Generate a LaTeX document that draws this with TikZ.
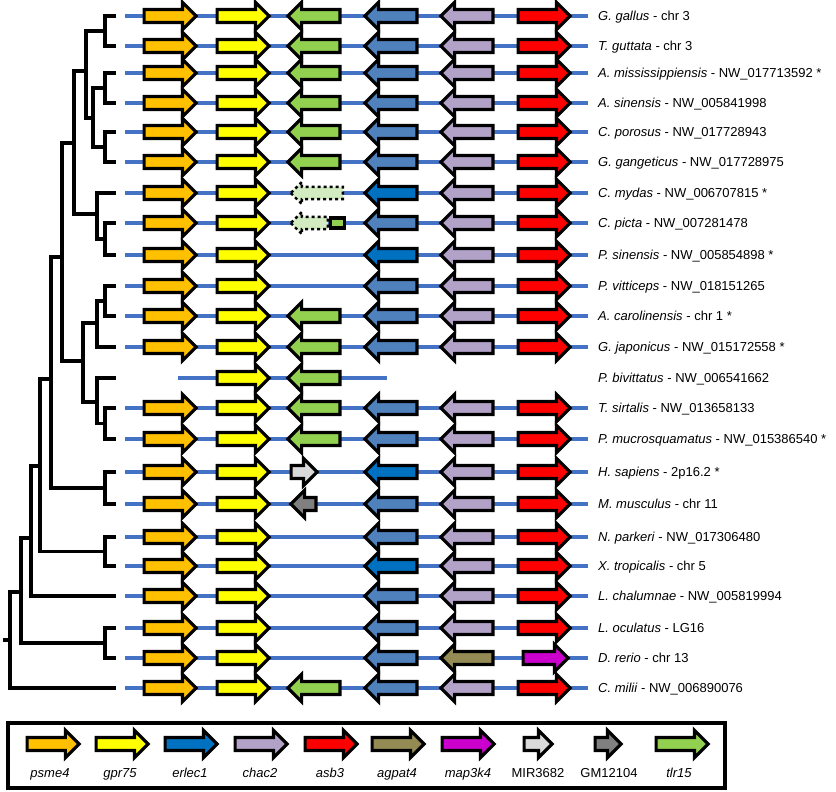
\documentclass[tikz,border=0pt]{standalone}
\usepackage{fontspec}
\setmainfont{Liberation Sans}
\usetikzlibrary{shapes,arrows,positioning}
\definecolor{cpsme}{HTML}{FFC000}
\definecolor{cgpr}{HTML}{FFFF00}
\definecolor{ctlr}{HTML}{92D050}
\definecolor{ctlrpale}{HTML}{D3EBC0}
\definecolor{cerl}{HTML}{4F81BD}
\definecolor{cerld}{HTML}{0070C0}
\definecolor{cchac}{HTML}{B3A2C7}
\definecolor{casb}{HTML}{FF0000}
\definecolor{cagpat}{HTML}{948A54}
\definecolor{cmap}{HTML}{CC00CC}
\definecolor{cmir}{HTML}{D9D9D9}
\definecolor{cgm}{HTML}{808080}
\definecolor{cchrom}{HTML}{4472C4}

\begin{document}
\begin{tikzpicture}[x=1pt, y=-1pt,
    every node/.style={font=\fontsize{13}{15}\selectfont},
    gene/.style={single arrow, draw=black, line width=3.2pt, inner sep=4.9pt,
        single arrow head extend=7.2pt, minimum height=52pt, anchor=tail},
    fwd/.style={gene},
    rev/.style={gene, rotate=180},
    psme4/.style={fwd, fill=cpsme},
    gpr75/.style={fwd, fill=cgpr},
    tlr15/.style={rev, fill=ctlr},
    erlec1/.style={rev, fill=cerl},
    erlec1d/.style={rev, fill=cerld},
    chac2/.style={rev, fill=cchac},
    asb3/.style={fwd, fill=casb},
    agpat4/.style={rev, fill=cagpat},
    map3k4/.style={fwd, fill=cmap, minimum height=45pt},
    mir3682/.style={fwd, fill=cmir, minimum height=26pt},
    gm12104/.style={rev, fill=cgm, minimum height=25pt},
    pseudo/.style={rev, fill=ctlrpale, line width=2.4pt, dash pattern=on 3pt off 3pt,
        single arrow head extend=5pt},
    branch/.style={line width=3.4pt},
    chrom/.style={draw=cchrom, line width=3.2pt},
    sp/.style={anchor=west, inner sep=0pt, text height=9.3pt, text depth=0pt},
    leglab/.style={anchor=base}]
    \useasboundingbox (0,0) rectangle (836,792);

    % Tree leaves
    \coordinate (leaf0) at (116,16);
    \coordinate (leaf1) at (116,46);
    \coordinate (leaf2) at (116,73);
    \coordinate (leaf3) at (116,103);
    \coordinate (leaf4) at (116,132);
    \coordinate (leaf5) at (116,162);
    \coordinate (leaf6) at (116,193);
    \coordinate (leaf7) at (116,223);
    \coordinate (leaf8) at (116,255);
    \coordinate (leaf9) at (116,286);
    \coordinate (leaf10) at (116,316);
    \coordinate (leaf11) at (116,347);
    \coordinate (leaf12) at (116,378);
    \coordinate (leaf13) at (116,408);
    \coordinate (leaf14) at (116,439);
    \coordinate (leaf15) at (116,472);
    \coordinate (leaf16) at (116,504);
    \coordinate (leaf17) at (116,537);
    \coordinate (leaf18) at (116,566);
    \coordinate (leaf19) at (116,596);
    \coordinate (leaf20) at (116,628);
    \coordinate (leaf21) at (116,658);
    \coordinate (leaf22) at (116,688);

    % Tree nodes
    \coordinate (birds) at (105,31);
    \coordinate (allig) at (105,88);
    \coordinate (crocs) at (105,147);
    \coordinate (croco) at (93,118);
    \coordinate (archo) at (86,71);
    \coordinate (emyd) at (105,239);
    \coordinate (turtles) at (97,214);
    \coordinate (archel) at (74,143);
    \coordinate (iguan) at (105,301);
    \coordinate (toxi) at (97,323);
    \coordinate (colub) at (105,423.5);
    \coordinate (snakes) at (97,402);
    \coordinate (squam) at (83,361);
    \coordinate (sauria) at (62,257);
    \coordinate (mammals) at (105,488);
    \coordinate (amniota) at (51,379);
    \coordinate (anura) at (105,551.5);
    \coordinate (tetra) at (40,466);
    \coordinate (sarco) at (31,538);
    \coordinate (actino) at (105,643);
    \coordinate (osteich) at (21,592);
    \coordinate (gnath) at (10,640);
    \coordinate (root) at (3,640);

    % Branches
    \draw[branch] (leaf0) -| (birds) |- (leaf1);
    \draw[branch] (leaf2) -| (allig) |- (leaf3);
    \draw[branch] (leaf4) -| (crocs) |- (leaf5);
    \draw[branch] (allig) -| (croco) |- (crocs);
    \draw[branch] (birds) -| (archo) |- (croco);
    \draw[branch] (leaf7) -| (emyd) |- (leaf8);
    \draw[branch] (leaf6) -| (turtles) |- (emyd);
    \draw[branch] (archo) -| (archel) |- (turtles);
    \draw[branch] (leaf9) -| (iguan) |- (leaf10);
    \draw[branch] (iguan) -| (toxi) |- (leaf11);
    \draw[branch] (leaf13) -| (colub) |- (leaf14);
    \draw[branch] (leaf12) -| (snakes) |- (colub);
    \draw[branch] (toxi) -| (squam) |- (snakes);
    \draw[branch] (archel) -| (sauria) |- (squam);
    \draw[branch] (leaf15) -| (mammals) |- (leaf16);
    \draw[branch] (sauria) -| (amniota) |- (mammals);
    \draw[branch] (leaf17) -| (anura) |- (leaf18);
    \draw[branch] (amniota) -| (tetra) |- (anura);
    \draw[branch] (tetra) -| (sarco) |- (leaf19);
    \draw[branch] (leaf20) -| (actino) |- (leaf21);
    \draw[branch] (sarco) -| (osteich) |- (actino);
    \draw[branch] (osteich) -| (gnath) |- (leaf22);
    \draw[branch] (root) -- (gnath);

    % Species
    \node[sp] (sp0) at (598,16) {\textit{G. gallus} - chr 3};
    \node[sp] (sp1) at (598,46) {\textit{T. guttata} - chr 3};
    \node[sp] (sp2) at (598,73) {\textit{A. mississippiensis} - NW\_017713592 *};
    \node[sp] (sp3) at (598,103) {\textit{A. sinensis} - NW\_005841998};
    \node[sp] (sp4) at (598,132) {\textit{C. porosus} - NW\_017728943};
    \node[sp] (sp5) at (598,162) {\textit{G. gangeticus} - NW\_017728975};
    \node[sp] (sp6) at (598,193) {\textit{C. mydas} - NW\_006707815 *};
    \node[sp] (sp7) at (598,223) {\textit{C. picta} - NW\_007281478};
    \node[sp] (sp8) at (598,255) {\textit{P. sinensis} - NW\_005854898 *};
    \node[sp] (sp9) at (598,286) {\textit{P. vitticeps} - NW\_018151265};
    \node[sp] (sp10) at (598,316) {\textit{A. carolinensis} - chr 1 *};
    \node[sp] (sp11) at (598,347) {\textit{G. japonicus} - NW\_015172558 *};
    \node[sp] (sp12) at (598,378) {\textit{P. bivittatus} - NW\_006541662};
    \node[sp] (sp13) at (598,408) {\textit{T. sirtalis} - NW\_013658133};
    \node[sp] (sp14) at (598,439) {\textit{P. mucrosquamatus} - NW\_015386540 *};
    \node[sp] (sp15) at (598,472) {\textit{H. sapiens} - 2p16.2 *};
    \node[sp] (sp16) at (598,504) {\textit{M. musculus} - chr 11};
    \node[sp] (sp17) at (598,537) {\textit{N. parkeri} - NW\_017306480};
    \node[sp] (sp18) at (598,566) {\textit{X. tropicalis} - chr 5};
    \node[sp] (sp19) at (598,596) {\textit{L. chalumnae} - NW\_005819994};
    \node[sp] (sp20) at (598,628) {\textit{L. oculatus} - LG16};
    \node[sp] (sp21) at (598,658) {\textit{D. rerio} - chr 13};
    \node[sp] (sp22) at (598,688) {\textit{C. milii} - NW\_006890076};

    % Chromosome lines
    \draw[chrom] ([xshift=9pt]leaf0) -- ([xshift=-10pt]sp0.west);
    \draw[chrom] ([xshift=9pt]leaf1) -- ([xshift=-10pt]sp1.west);
    \draw[chrom] ([xshift=9pt]leaf2) -- ([xshift=-10pt]sp2.west);
    \draw[chrom] ([xshift=9pt]leaf3) -- ([xshift=-10pt]sp3.west);
    \draw[chrom] ([xshift=9pt]leaf4) -- ([xshift=-10pt]sp4.west);
    \draw[chrom] ([xshift=9pt]leaf5) -- ([xshift=-10pt]sp5.west);
    \draw[chrom] ([xshift=9pt]leaf6) -- ([xshift=-10pt]sp6.west);
    \draw[chrom] ([xshift=9pt]leaf7) -- ([xshift=-10pt]sp7.west);
    \draw[chrom] ([xshift=9pt]leaf8) -- ([xshift=-10pt]sp8.west);
    \draw[chrom] ([xshift=9pt]leaf9) -- ([xshift=-10pt]sp9.west);
    \draw[chrom] ([xshift=9pt]leaf10) -- ([xshift=-10pt]sp10.west);
    \draw[chrom] ([xshift=9pt]leaf11) -- ([xshift=-10pt]sp11.west);
    \draw[chrom] ([xshift=62pt]leaf12) -- ([xshift=271pt]leaf12);
    \draw[chrom] ([xshift=9pt]leaf13) -- ([xshift=-10pt]sp13.west);
    \draw[chrom] ([xshift=9pt]leaf14) -- ([xshift=-10pt]sp14.west);
    \draw[chrom] ([xshift=9pt]leaf15) -- ([xshift=-10pt]sp15.west);
    \draw[chrom] ([xshift=9pt]leaf16) -- ([xshift=-10pt]sp16.west);
    \draw[chrom] ([xshift=9pt]leaf17) -- ([xshift=-10pt]sp17.west);
    \draw[chrom] ([xshift=9pt]leaf18) -- ([xshift=-10pt]sp18.west);
    \draw[chrom] ([xshift=9pt]leaf19) -- ([xshift=-10pt]sp19.west);
    \draw[chrom] ([xshift=9pt]leaf20) -- ([xshift=-10pt]sp20.west);
    \draw[chrom] ([xshift=9pt]leaf21) -- ([xshift=-10pt]sp21.west);
    \draw[chrom] ([xshift=9pt]leaf22) -- ([xshift=-10pt]sp22.west);

    % G. gallus
    \node[psme4] (psme0) at (142.5,16) {};
    \node[gpr75] (gpr0) at (215.5,16) {};
    \node[tlr15] (tlr0) at (341.5,16) {};
    \node[erlec1] (erl0) at (418.5,16) {};
    \node[chac2] (chac0) at (494.5,16) {};
    \node[asb3] (asb0) at (516.5,16) {};
    % T. guttata
    \node[psme4] (psme1) at (142.5,46) {};
    \node[gpr75] (gpr1) at (215.5,46) {};
    \node[tlr15] (tlr1) at (341.5,46) {};
    \node[erlec1] (erl1) at (418.5,46) {};
    \node[chac2] (chac1) at (494.5,46) {};
    \node[asb3] (asb1) at (516.5,46) {};
    % A. mississippiensis
    \node[psme4] (psme2) at (142.5,73) {};
    \node[gpr75] (gpr2) at (215.5,73) {};
    \node[tlr15] (tlr2) at (341.5,73) {};
    \node[erlec1] (erl2) at (418.5,73) {};
    \node[chac2] (chac2) at (494.5,73) {};
    \node[asb3] (asb2) at (516.5,73) {};
    % A. sinensis
    \node[psme4] (psme3) at (142.5,103) {};
    \node[gpr75] (gpr3) at (215.5,103) {};
    \node[tlr15] (tlr3) at (341.5,103) {};
    \node[erlec1] (erl3) at (418.5,103) {};
    \node[chac2] (chac3) at (494.5,103) {};
    \node[asb3] (asb3) at (516.5,103) {};
    % C. porosus
    \node[psme4] (psme4) at (142.5,132) {};
    \node[gpr75] (gpr4) at (215.5,132) {};
    \node[tlr15] (tlr4) at (341.5,132) {};
    \node[erlec1] (erl4) at (418.5,132) {};
    \node[chac2] (chac4) at (494.5,132) {};
    \node[asb3] (asb4) at (516.5,132) {};
    % G. gangeticus
    \node[psme4] (psme5) at (142.5,162) {};
    \node[gpr75] (gpr5) at (215.5,162) {};
    \node[tlr15] (tlr5) at (341.5,162) {};
    \node[erlec1] (erl5) at (418.5,162) {};
    \node[chac2] (chac5) at (494.5,162) {};
    \node[asb3] (asb5) at (516.5,162) {};
    % C. mydas
    \node[psme4] (psme6) at (142.5,193) {};
    \node[gpr75] (gpr6) at (215.5,193) {};
    \node[pseudo] (tlr6) at (344,193) {};
    \node[erlec1d] (erl6) at (418.5,193) {};
    \node[chac2] (chac6) at (494.5,193) {};
    \node[asb3] (asb6) at (516.5,193) {};
    % C. picta
    \node[psme4] (psme7) at (142.5,223) {};
    \node[gpr75] (gpr7) at (215.5,223) {};
    \node[pseudo, minimum height=37pt] (tlr7) at (329,223) {};
    \node[draw, fill=ctlr, line width=3.2pt, minimum width=14.5pt, minimum height=10pt,
        inner sep=0pt] (exon7) at (337.5,223) {};
    \node[erlec1] (erl7) at (418.5,223) {};
    \node[chac2] (chac7) at (494.5,223) {};
    \node[asb3] (asb7) at (516.5,223) {};
    % P. sinensis
    \node[psme4] (psme8) at (142.5,255) {};
    \node[gpr75] (gpr8) at (215.5,255) {};
    \node[erlec1d] (erl8) at (418.5,255) {};
    \node[chac2] (chac8) at (494.5,255) {};
    \node[asb3] (asb8) at (516.5,255) {};
    % P. vitticeps
    \node[psme4] (psme9) at (142.5,286) {};
    \node[gpr75] (gpr9) at (215.5,286) {};
    \node[erlec1] (erl9) at (418.5,286) {};
    \node[chac2] (chac9) at (494.5,286) {};
    \node[asb3] (asb9) at (516.5,286) {};
    % A. carolinensis
    \node[psme4] (psme10) at (142.5,316) {};
    \node[gpr75] (gpr10) at (215.5,316) {};
    \node[tlr15] (tlr10) at (341.5,316) {};
    \node[erlec1] (erl10) at (418.5,316) {};
    \node[chac2] (chac10) at (494.5,316) {};
    \node[asb3] (asb10) at (516.5,316) {};
    % G. japonicus
    \node[psme4] (psme11) at (142.5,347) {};
    \node[gpr75] (gpr11) at (215.5,347) {};
    \node[tlr15] (tlr11) at (341.5,347) {};
    \node[erlec1] (erl11) at (418.5,347) {};
    \node[chac2] (chac11) at (494.5,347) {};
    \node[asb3] (asb11) at (516.5,347) {};
    % P. bivittatus
    \node[gpr75] (gpr12) at (215.5,378) {};
    \node[tlr15] (tlr12) at (341.5,378) {};
    % T. sirtalis
    \node[psme4] (psme13) at (142.5,408) {};
    \node[gpr75] (gpr13) at (215.5,408) {};
    \node[tlr15] (tlr13) at (341.5,408) {};
    \node[erlec1] (erl13) at (418.5,408) {};
    \node[chac2] (chac13) at (494.5,408) {};
    \node[asb3] (asb13) at (516.5,408) {};
    % P. mucrosquamatus
    \node[psme4] (psme14) at (142.5,439) {};
    \node[gpr75] (gpr14) at (215.5,439) {};
    \node[tlr15] (tlr14) at (341.5,439) {};
    \node[erlec1] (erl14) at (418.5,439) {};
    \node[chac2] (chac14) at (494.5,439) {};
    \node[asb3] (asb14) at (516.5,439) {};
    % H. sapiens
    \node[psme4] (psme15) at (142.5,472) {};
    \node[gpr75] (gpr15) at (215.5,472) {};
    \node[mir3682] (mir15) at (289.5,472) {};
    \node[erlec1d] (erl15) at (418.5,472) {};
    \node[chac2] (chac15) at (494.5,472) {};
    \node[asb3] (asb15) at (516.5,472) {};
    % M. musculus
    \node[psme4] (psme16) at (142.5,504) {};
    \node[gpr75] (gpr16) at (215.5,504) {};
    \node[gm12104] (gm16) at (317.5,504) {};
    \node[erlec1] (erl16) at (418.5,504) {};
    \node[chac2] (chac16) at (494.5,504) {};
    \node[asb3] (asb16) at (516.5,504) {};
    % N. parkeri
    \node[psme4] (psme17) at (142.5,537) {};
    \node[gpr75] (gpr17) at (215.5,537) {};
    \node[erlec1] (erl17) at (418.5,537) {};
    \node[chac2] (chac17) at (494.5,537) {};
    \node[asb3] (asb17) at (516.5,537) {};
    % X. tropicalis
    \node[psme4] (psme18) at (142.5,566) {};
    \node[gpr75] (gpr18) at (215.5,566) {};
    \node[erlec1d] (erl18) at (418.5,566) {};
    \node[chac2] (chac18) at (494.5,566) {};
    \node[asb3] (asb18) at (516.5,566) {};
    % L. chalumnae
    \node[psme4] (psme19) at (142.5,596) {};
    \node[gpr75] (gpr19) at (215.5,596) {};
    \node[erlec1] (erl19) at (418.5,596) {};
    \node[chac2] (chac19) at (494.5,596) {};
    \node[asb3] (asb19) at (516.5,596) {};
    % L. oculatus
    \node[psme4] (psme20) at (142.5,628) {};
    \node[gpr75] (gpr20) at (215.5,628) {};
    \node[erlec1] (erl20) at (418.5,628) {};
    \node[chac2] (chac20) at (494.5,628) {};
    \node[asb3] (asb20) at (516.5,628) {};
    % D. rerio
    \node[psme4] (psme21) at (142.5,658) {};
    \node[gpr75] (gpr21) at (215.5,658) {};
    \node[erlec1] (erl21) at (418.5,658) {};
    \node[agpat4] (agpat21) at (494.5,658) {};
    \node[map3k4] (map21) at (521.5,658) {};
    % C. milii
    \node[psme4] (psme22) at (142.5,688) {};
    \node[gpr75] (gpr22) at (215.5,688) {};
    \node[tlr15] (tlr22) at (341.5,688) {};
    \node[erlec1] (erl22) at (418.5,688) {};
    \node[chac2] (chac22) at (494.5,688) {};
    \node[asb3] (asb22) at (516.5,688) {};

    % Legend
    \draw[line width=3.2pt] (8,723) rectangle (725,788);
    \node[fwd, fill=cpsme] (kpsme) at (25.5,744) {};
    \node[fwd, fill=cgpr] (kgpr) at (94.5,744) {};
    \node[fwd, fill=cerld] (kerl) at (163.5,744) {};
    \node[fwd, fill=cchac] (kchac) at (233.5,744) {};
    \node[fwd, fill=casb] (kasb) at (303.5,744) {};
    \node[fwd, fill=cagpat] (kagpat) at (370.5,744) {};
    \node[fwd, fill=cmap] (kmap) at (440.5,744) {};
    \node[fwd, fill=cmir, minimum height=28pt] (kmir) at (522.5,744) {};
    \node[fwd, fill=cgm, minimum height=26pt] (kgm) at (593.5,744) {};
    \node[fwd, fill=ctlr] (ktlr) at (654.5,744) {};
    \node[leglab] at (50,777) {\textit{psme4}};
    \node[leglab] at (120,777) {\textit{gpr75}};
    \node[leglab] at (190,777) {\textit{erlec1}};
    \node[leglab] at (260,777) {\textit{chac2}};
    \node[leglab] at (330,777) {\textit{asb3}};
    \node[leglab] at (397,777) {\textit{agpat4}};
    \node[leglab] at (468,777) {\textit{map3k4}};
    \node[leglab] at (538,777) {MIR3682};
    \node[leglab] at (609,777) {GM12104};
    \node[leglab] at (679,777) {\textit{tlr15}};
\end{tikzpicture}
\end{document}
